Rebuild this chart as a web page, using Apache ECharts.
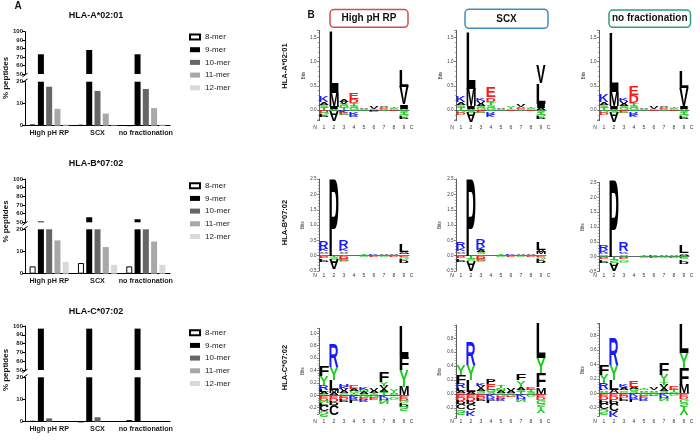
<!DOCTYPE html>
<html><head><meta charset="utf-8">
<script src="https://cdn.jsdelivr.net/npm/echarts@6/dist/echarts.min.js"></script>
<style>html,body{margin:0;padding:0;background:#fff}#c{width:700px;height:440px}</style>
</head><body><div id="c"></div>
<script>
// ================= DATA : panel A (% peptides by length) =================
const fractionations = ['High pH RP', 'SCX', 'no fractionation'];
const merNames = ['8-mer', '9-mer', '10-mer', '11-mer', '12-mer'];
const alleles = ['HLA-A*02:01', 'HLA-B*07:02', 'HLA-C*07:02'];
const upperTicks = [50, 60, 70, 80, 90, 100];
const lowerTicks = [0, 10, 20];

const a0201_8mer  = [0.5, 0.3, 0.1];
const a0201_9mer  = [73.3, 78.4, 73.3];
const a0201_10mer = [17.7, 15.8, 16.7];
const a0201_11mer = [7.7, 5.5, 8.0];
const a0201_12mer = [0.7, 0.2, 0.6];

const b0702_8mer  = [3.3, 4.8, 3.3];
const b0702_9mer  = [51.0, 55.8, 53.5];
const b0702_10mer = [25, 25, 25];
const b0702_11mer = [15.0, 12.0, 14.5];
const b0702_12mer = [5.3, 4.0, 4.0];

const c0702_8mer  = [0.3, 0.0, 0.7];
const c0702_9mer  = [97, 97, 97];
const c0702_10mer = [1.5, 2.0, 0.0];
const c0702_11mer = [0, 0, 0];
const c0702_12mer = [0, 0, 0];

// ================= DATA : panel B (sequence logos, bits) =================
const logoColumns = ['High pH RP', 'SCX', 'no fractionation'];
const positionLabels = ['N', '1', '2', '3', '4', '5', '6', '7', '8', '9', 'C'];
const positionLabelAt = [0.1, 1, 2, 3, 4, 5, 6, 7, 8, 9, 9.75];
// [position, residue, bits]  (positive stacked upward, negative stacked downward)
const logo_A0201_highpH = [
 [1,'T',0.05],[1,'S',0.06],[1,'A',0.06],[1,'K',0.14],[1,'D',-0.04],[1,'G',-0.05],[1,'P',-0.05],
 [2,'V',0.03],[2,'I',0.04],[2,'M',0.28],[2,'L',1.28],[2,'S',-0.03],[2,'A',-0.22],
 [3,'T',0.04],[3,'G',0.04],[3,'S',0.04],[3,'V',0.05],[3,'A',0.05],[3,'K',-0.04],[3,'E',-0.04],[3,'N',-0.03],
 [4,'G',0.04],[4,'S',0.05],[4,'T',0.05],[4,'D',0.08],[4,'E',0.14],[4,'Q',-0.04],[4,'K',-0.05],[4,'R',-0.05],
 [5,'S',0.02],[5,'A',0.015],[5,'G',-0.02],
 [6,'G',0.02],[6,'V',0.04],[6,'P',-0.02],[6,'E',-0.02],
 [7,'S',0.02],[7,'E',0.02],[7,'A',0.03],[7,'V',0.03],[7,'T',-0.02],
 [8,'G',0.02],[8,'S',0.02],[8,'T',0.02],[8,'E',-0.02],
 [9,'A',0.03],[9,'I',0.09],[9,'V',0.36],[9,'L',0.34],[9,'S',-0.04],[9,'T',-0.04],[9,'G',-0.05],[9,'P',-0.06]
];
const logo_A0201_scx = [
 [1,'T',0.05],[1,'S',0.05],[1,'A',0.06],[1,'K',0.12],[1,'G',-0.05],[1,'D',-0.05],
 [2,'V',0.03],[2,'I',0.05],[2,'M',0.36],[2,'L',1.18],[2,'S',-0.04],[2,'A',-0.22],
 [3,'G',0.04],[3,'S',0.04],[3,'A',0.05],[3,'V',0.05],[3,'K',0.05],[3,'E',-0.04],[3,'N',-0.03],
 [4,'G',0.05],[4,'S',0.06],[4,'T',0.06],[4,'D',0.09],[4,'E',0.22],[4,'Q',-0.04],[4,'R',-0.05],[4,'K',-0.05],
 [5,'S',0.02],[5,'A',0.02],[5,'G',-0.02],
 [6,'G',0.02],[6,'Y',0.05],[6,'E',-0.02],
 [7,'S',0.02],[7,'E',0.02],[7,'A',0.03],[7,'V',0.04],[7,'T',-0.02],
 [8,'G',0.02],[8,'S',0.03],[8,'T',0.03],[8,'E',-0.02],
 [9,'A',0.04],[9,'I',0.09],[9,'L',0.42],[9,'V',0.37],[9,'S',-0.04],[9,'T',-0.04],[9,'G',-0.05],[9,'P',-0.06]
];
const logo_A0201_nofrac = [
 [1,'T',0.05],[1,'S',0.06],[1,'A',0.06],[1,'K',0.15],[1,'G',-0.05],[1,'D',-0.05],
 [2,'V',0.03],[2,'I',0.05],[2,'M',0.30],[2,'L',1.24],[2,'S',-0.05],[2,'A',-0.20],
 [3,'G',0.04],[3,'S',0.04],[3,'A',0.05],[3,'V',0.05],[3,'K',0.04],[3,'E',-0.04],[3,'N',-0.03],
 [4,'G',0.04],[4,'S',0.05],[4,'T',0.05],[4,'D',0.17],[4,'E',0.18],[4,'Q',-0.04],[4,'R',-0.05],[4,'K',-0.05],
 [5,'S',0.02],[5,'A',0.02],[5,'G',-0.02],
 [6,'G',0.02],[6,'V',0.04],[6,'E',-0.02],
 [7,'S',0.02],[7,'E',0.02],[7,'A',0.03],[7,'V',0.03],[7,'T',-0.02],
 [8,'G',0.02],[8,'S',0.02],[8,'T',0.03],[8,'E',-0.02],
 [9,'A',0.03],[9,'I',0.05],[9,'V',0.38],[9,'L',0.35],[9,'S',-0.04],[9,'T',-0.04],[9,'G',-0.05],[9,'P',-0.06]
];
const logo_B0702_highpH = [
 [1,'G',0.04],[1,'S',0.05],[1,'A',0.05],[1,'K',0.09],[1,'R',0.23],[1,'D',-0.05],[1,'E',-0.05],[1,'P',-0.07],
 [2,'P',2.53],[2,'T',-0.05],[2,'S',-0.07],[2,'A',-0.35],
 [3,'T',0.05],[3,'S',0.05],[3,'A',0.05],[3,'K',0.10],[3,'R',0.25],[3,'D',-0.06],[3,'E',-0.06],[3,'G',-0.08],
 [4,'S',0.015],[4,'A',0.015],[4,'G',-0.015],
 [5,'S',0.02],[5,'T',0.02],[5,'G',-0.02],
 [6,'T',0.03],[6,'K',0.03],[6,'E',-0.03],
 [7,'S',0.02],[7,'A',0.02],[7,'G',-0.02],
 [8,'S',0.03],[8,'A',0.03],[8,'D',-0.02],
 [9,'S',0.04],[9,'M',0.04],[9,'V',0.05],[9,'L',0.27],[9,'E',-0.04],[9,'G',-0.06],[9,'P',-0.12]
];
const logo_B0702_scx = [
 [1,'G',0.04],[1,'S',0.05],[1,'A',0.05],[1,'K',0.10],[1,'R',0.22],[1,'D',-0.05],[1,'E',-0.05],[1,'P',-0.07],
 [2,'P',2.55],[2,'T',-0.08],[2,'S',-0.10],[2,'A',-0.32],
 [3,'T',0.05],[3,'S',0.06],[3,'A',0.06],[3,'K',0.10],[3,'R',0.26],[3,'D',-0.06],[3,'E',-0.06],[3,'G',-0.08],
 [4,'S',0.015],[4,'A',0.015],[4,'G',-0.015],
 [5,'S',0.02],[5,'T',0.02],[5,'G',-0.02],
 [6,'T',0.03],[6,'K',0.04],[6,'E',-0.03],
 [7,'S',0.02],[7,'A',0.02],[7,'G',-0.02],
 [8,'S',0.03],[8,'A',0.03],[8,'D',-0.02],
 [9,'S',0.05],[9,'M',0.06],[9,'V',0.08],[9,'L',0.27],[9,'E',-0.04],[9,'G',-0.06],[9,'P',-0.12]
];
const logo_B0702_nofrac = [
 [1,'G',0.04],[1,'S',0.05],[1,'A',0.05],[1,'K',0.08],[1,'R',0.19],[1,'D',-0.05],[1,'E',-0.05],[1,'P',-0.07],
 [2,'P',2.63],[2,'T',-0.08],[2,'S',-0.12],[2,'A',-0.27],
 [3,'T',0.04],[3,'S',0.05],[3,'A',0.05],[3,'K',0.06],[3,'R',0.28],[3,'D',-0.06],[3,'E',-0.06],[3,'G',-0.08],
 [4,'S',0.015],[4,'A',0.015],[4,'G',-0.015],
 [5,'S',0.02],[5,'T',0.02],[5,'G',-0.02],
 [6,'T',0.03],[6,'K',0.04],[6,'E',-0.03],
 [7,'S',0.02],[7,'A',0.02],[7,'G',-0.02],
 [8,'S',0.03],[8,'A',0.04],[8,'D',-0.02],
 [9,'S',0.03],[9,'M',0.04],[9,'V',0.04],[9,'L',0.25],[9,'E',-0.04],[9,'G',-0.06],[9,'P',-0.12]
];
const logo_C0702_highpH = [
 [1,'S',0.02],[1,'A',0.03],[1,'L',0.04],[1,'R',0.08],[1,'Y',0.14],[1,'F',0.16],
 [1,'E',-0.04],[1,'D',-0.04],[1,'N',-0.04],[1,'P',-0.04],[1,'C',-0.10],[1,'S',-0.11],
 [2,'A',0.03],[2,'M',0.06],[2,'L',0.16],[2,'Y',0.21],[2,'R',0.38],
 [2,'E',-0.04],[2,'D',-0.05],[2,'P',-0.06],[2,'C',-0.16],
 [3,'G',0.02],[3,'S',0.02],[3,'A',0.03],[3,'V',0.03],[3,'K',0.04],[3,'H',0.03],[3,'E',-0.03],[3,'D',-0.03],[3,'P',-0.04],
 [4,'S',0.02],[4,'T',0.02],[4,'G',0.03],[4,'A',0.03],[4,'E',0.07],[4,'K',-0.03],[4,'R',-0.04],[4,'L',-0.04],
 [5,'S',0.02],[5,'A',0.03],[5,'N',0.03],[5,'K',0.03],[5,'G',-0.03],[5,'E',-0.03],[5,'R',-0.04],
 [6,'S',0.02],[6,'T',0.02],[6,'A',0.03],[6,'V',0.04],[6,'G',-0.03],[6,'E',-0.03],
 [7,'T',0.03],[7,'S',0.03],[7,'A',0.04],[7,'V',0.05],[7,'Y',0.07],[7,'F',0.16],[7,'K',-0.04],[7,'H',-0.03],[7,'N',-0.05],
 [8,'S',0.02],[8,'A',0.02],[8,'Y',0.06],[8,'E',-0.02],[8,'G',-0.03],
 [9,'M',0.14],[9,'Y',0.27],[9,'F',0.21],[9,'L',0.51],[9,'E',-0.04],[9,'D',-0.04],[9,'G',-0.04],[9,'P',-0.06],[9,'S',-0.08]
];
const logo_C0702_scx = [
 [1,'S',0.02],[1,'A',0.03],[1,'L',0.03],[1,'R',0.07],[1,'F',0.12],[1,'Y',0.15],
 [1,'E',-0.04],[1,'D',-0.05],[1,'P',-0.06],[1,'C',-0.08],[1,'S',-0.07],
 [2,'A',0.03],[2,'L',0.17],[2,'Y',0.22],[2,'R',0.34],
 [2,'E',-0.04],[2,'D',-0.05],[2,'P',-0.05],[2,'C',-0.10],[2,'K',-0.08],
 [3,'G',0.02],[3,'S',0.03],[3,'A',0.03],[3,'V',0.03],[3,'K',0.04],[3,'E',-0.03],[3,'D',-0.03],[3,'P',-0.03],
 [4,'S',0.03],[4,'G',0.03],[4,'E',0.09],[4,'P',0.07],[4,'K',-0.04],[4,'R',-0.04],[4,'L',-0.04],
 [5,'S',0.02],[5,'A',0.03],[5,'N',0.03],[5,'T',0.03],[5,'G',-0.03],[5,'E',-0.03],[5,'R',-0.03],
 [6,'S',0.02],[6,'A',0.03],[6,'V',0.04],[6,'G',-0.03],[6,'E',-0.02],
 [7,'T',0.03],[7,'S',0.03],[7,'A',0.04],[7,'Y',0.10],[7,'F',0.10],[7,'K',-0.04],[7,'H',-0.03],[7,'N',-0.04],
 [8,'S',0.03],[8,'T',0.03],[8,'E',0.04],[8,'G',-0.03],
 [9,'M',0.10],[9,'F',0.20],[9,'Y',0.22],[9,'L',0.50],[9,'E',-0.04],[9,'D',-0.04],[9,'G',-0.05],[9,'S',-0.05],[9,'Y',-0.10]
];
const logo_C0702_nofrac = [
 [1,'S',0.02],[1,'A',0.02],[1,'L',0.02],[1,'R',0.08],[1,'Y',0.12],[1,'F',0.14],
 [1,'E',-0.04],[1,'D',-0.05],[1,'P',-0.05],[1,'C',-0.08],[1,'S',-0.08],
 [2,'A',0.05],[2,'L',0.14],[2,'Y',0.21],[2,'R',0.37],
 [2,'E',-0.04],[2,'D',-0.05],[2,'P',-0.05],[2,'C',-0.10],[2,'K',-0.09],
 [3,'G',0.02],[3,'S',0.02],[3,'A',0.03],[3,'V',0.02],[3,'K',0.03],[3,'E',-0.03],[3,'D',-0.03],[3,'P',-0.03],
 [4,'S',0.03],[4,'G',0.03],[4,'A',0.03],[4,'E',0.09],[4,'K',-0.04],[4,'R',-0.04],[4,'L',-0.04],
 [5,'S',0.02],[5,'A',0.02],[5,'N',0.02],[5,'T',0.02],[5,'G',-0.03],[5,'E',-0.03],[5,'R',-0.03],
 [6,'S',0.02],[6,'A',0.02],[6,'V',0.03],[6,'G',-0.03],[6,'E',-0.02],
 [7,'S',0.03],[7,'A',0.04],[7,'V',0.05],[7,'T',0.04],[7,'Y',0.10],[7,'F',0.16],[7,'K',-0.04],[7,'H',-0.03],[7,'N',-0.04],
 [8,'S',0.02],[8,'T',0.03],[8,'E',0.05],[8,'G',-0.03],
 [9,'M',0.12],[9,'F',0.23],[9,'Y',0.21],[9,'L',0.42],[9,'E',-0.04],[9,'D',-0.04],[9,'G',-0.05],[9,'S',-0.05],[9,'Y',-0.12]
];

// ================= LAYOUT / STYLE =================
const FF = '"Liberation Sans", Arial, Helvetica, sans-serif';
const barValues = [
  [a0201_8mer, a0201_9mer, a0201_10mer, a0201_11mer, a0201_12mer],
  [b0702_8mer, b0702_9mer, b0702_10mer, b0702_11mer, b0702_12mer],
  [c0702_8mer, c0702_9mer, c0702_10mer, c0702_11mer, c0702_12mer]
];
const barLayout = [
  {titleY: 16,    upperTop: 31.7, upperH: 42.3, lowerTop: 81.7,  lowerH: 44.0, legendTop: 33,    ylabY: 78},
  {titleY: 164,   upperTop: 179,  upperH: 43.3, lowerTop: 229.3, lowerH: 44.4, legendTop: 181.7, ylabY: 221.5},
  {titleY: 311.7, upperTop: 326,  upperH: 44.0, lowerTop: 377.3, lowerH: 44.4, legendTop: 328.7, ylabY: 370}
];
const BAR_LEFT = 25, BAR_W = 145;
const barStyles = [
  {color: '#ffffff', borderColor: '#000', borderWidth: 1},
  {color: '#000000'}, {color: '#666666'}, {color: '#a8a8a8'}, {color: '#d9d9d9'}
];

const logos = [
  [logo_A0201_highpH, logo_A0201_scx, logo_A0201_nofrac],
  [logo_B0702_highpH, logo_B0702_scx, logo_B0702_nofrac],
  [logo_C0702_highpH, logo_C0702_scx, logo_C0702_nofrac]
];
const logoAxisX = [319, 456, 599];
const logoRowLayout = [
  {zeroY: [110, 110, 110], ppb: [48.3, 48.3, 48.3], min: [-0.22, -0.22, -0.22], max: [1.65, 1.65, 1.65], step: 0.5, labelY: 127.3, rowLabelY: 66},
  {zeroY: [255.7, 255.7, 256.7], ppb: [30.6, 30.6, 29.7], min: [-0.5, -0.5, -0.5], max: [2.5, 2.5, 2.5], step: 0.5, labelY: 276, rowLabelY: 222.5},
  {zeroY: [395.3, 394, 393.3], ppb: [62, 69.6, 72], min: [-0.3, -0.35, -0.32], max: [1.08, 0.99, 0.97], step: 0.2, labelY: 421.7, rowLabelY: 367.5}
];
const headerBoxes = [
  {x: 330, y: 9.5, w: 78, h: 17.8, color: '#d84a4a'},
  {x: 465, y: 9.3, w: 83, h: 19, color: '#3d8ec4'},
  {x: 609, y: 10, w: 81.5, h: 17.3, color: '#2f9f6c'}
];

const RES_COLOR = {};
'ACFILMPVW'.split('').forEach(c => RES_COLOR[c] = '#000000');
'KRH'.split('').forEach(c => RES_COLOR[c] = '#1a1aff');
'DE'.split('').forEach(c => RES_COLOR[c] = '#ff1a1a');
'GNQSTY'.split('').forEach(c => RES_COLOR[c] = '#22cc22');

// ---- glyph metrics for stretched letters ----
const GFONT = 'bold 40px ' + FF;
const mctx = document.createElement('canvas').getContext('2d');
mctx.font = GFONT; mctx.textAlign = 'center'; mctx.textBaseline = 'middle';
const gcache = {};
function glyph(ch) {
  if (!gcache[ch]) {
    const m = mctx.measureText(ch);
    gcache[ch] = {L: m.actualBoundingBoxLeft, R: m.actualBoundingBoxRight, A: m.actualBoundingBoxAscent, D: m.actualBoundingBoxDescent};
  }
  return gcache[ch];
}
function stackLogo(arr) {
  const up = {}, dn = {}, items = [];
  arr.forEach(([p, ch, b]) => {
    if (b >= 0) { const y0 = up[p] || 0; items.push({pos: p, ch, y0, y1: y0 + b, neg: false}); up[p] = y0 + b; }
    else { const y0 = dn[p] || 0; items.push({pos: p, ch, y0: y0 + b, y1: y0, neg: true}); dn[p] = y0 + b; }
  });
  return items;
}
function letterRenderer(items) {
  return function (params, api) {
    const it = items[params.dataIndex];
    const p0 = api.coord([it.pos - 0.5, it.y0]);
    const p1 = api.coord([it.pos + 0.5, it.y1]);
    const w = Math.abs(p1[0] - p0[0]) * 0.94;
    const h = Math.abs(p1[1] - p0[1]);
    if (h < 0.3) return null;
    const g = glyph(it.ch);
    const sx = w / (g.L + g.R);
    let sy = h / (g.A + g.D);
    if (it.neg) sy = -sy;
    const cx = (p0[0] + p1[0]) / 2, cy = (p0[1] + p1[1]) / 2;
    return {
      type: 'text', silent: true,
      x: cx - sx * (g.R - g.L) / 2, y: cy - sy * (g.D - g.A) / 2,
      scaleX: sx, scaleY: sy,
      style: {text: it.ch, font: GFONT, fill: RES_COLOR[it.ch], align: 'center', verticalAlign: 'middle', textAlign: 'center', textVerticalAlign: 'middle'}
    };
  };
}

// ================= BUILD OPTION =================
const grid = [], xAxis = [], yAxis = [], series = [], legend = [], graphic = [];
const txt = (x, y, text, font, extra) => Object.assign({type: 'text', x, y, silent: true,
  style: {text, font, fill: '#111', align: 'center', verticalAlign: 'middle', textAlign: 'center', textVerticalAlign: 'middle'}}, extra || {});

graphic.push(txt(18, 6, 'A', 'bold 10px ' + FF));
graphic.push(txt(311, 15, 'B', 'bold 10px ' + FF));

barLayout.forEach((L, k) => {
  const gu = grid.length, gl = gu + 1;
  grid.push({left: BAR_LEFT, width: BAR_W, top: L.upperTop, height: L.upperH, containLabel: false, outerBoundsMode: 'none'});
  grid.push({left: BAR_LEFT, width: BAR_W, top: L.lowerTop, height: L.lowerH, containLabel: false, outerBoundsMode: 'none'});
  xAxis.push({gridIndex: gu, type: 'category', data: fractionations, show: false});
  xAxis.push({gridIndex: gl, type: 'category', data: fractionations,
    axisLine: {show: true, lineStyle: {color: '#000', width: 1}}, axisTick: {show: false},
    axisLabel: {interval: 0, fontSize: 7.2, fontWeight: 'bold', color: '#1a1a1a', margin: 4, fontFamily: FF}});
  const yCommon = {type: 'value', splitLine: {show: false},
    axisLine: {show: true, lineStyle: {color: '#000', width: 1}},
    axisTick: {show: true, length: 3, lineStyle: {color: '#000', width: 1}},
    axisLabel: {fontSize: 6, fontWeight: 'bold', color: '#1a1a1a', margin: 2, fontFamily: FF}};
  yAxis.push(Object.assign({gridIndex: gu, min: upperTicks[0], max: upperTicks[upperTicks.length - 1], interval: 10}, yCommon));
  yAxis.push(Object.assign({gridIndex: gl, min: lowerTicks[0], max: lowerTicks[lowerTicks.length - 1], interval: 10}, yCommon));
  merNames.forEach((m, j) => {
    const vals = barValues[k][j];
    series.push({type: 'bar', name: m, xAxisIndex: gu, yAxisIndex: gu, barWidth: 6, barGap: '38%',
      data: vals.map(v => v > upperTicks[0] ? v : '-'), itemStyle: barStyles[j], silent: true});
    series.push({type: 'bar', name: m, xAxisIndex: gl, yAxisIndex: gl, barWidth: 6, barGap: '38%',
      data: vals.slice(), itemStyle: barStyles[j], silent: true});
  });
  legend.push({data: merNames, orient: 'vertical', left: 189, top: L.legendTop, padding: 0,
    itemWidth: 10, itemHeight: 5, itemGap: 4.7, icon: 'rect', selectedMode: false,
    textStyle: {fontSize: 8, color: '#1a1a1a', lineHeight: 8, fontFamily: FF}});
  graphic.push(txt(96, L.titleY, alleles[k], 'bold 9px ' + FF));
  graphic.push(txt(6, L.ylabY, '% peptides', 'bold 8px ' + FF, {rotation: Math.PI / 2}));
  const yU = L.upperTop + L.upperH, yL = L.lowerTop;
  graphic.push({type: 'line', silent: true, shape: {x1: BAR_LEFT - 2.5, y1: yU + 2.8, x2: BAR_LEFT + 2.5, y2: yU - 0.8}, style: {stroke: '#000', lineWidth: 1}});
  graphic.push({type: 'line', silent: true, shape: {x1: BAR_LEFT - 2.5, y1: yL + 0.8, x2: BAR_LEFT + 2.5, y2: yL - 2.8}, style: {stroke: '#000', lineWidth: 1}});
});

// header boxes
headerBoxes.forEach((b, i) => {
  graphic.push({type: 'rect', silent: true, shape: {x: b.x, y: b.y, width: b.w, height: b.h, r: 4},
    style: {fill: '#fff', stroke: b.color, lineWidth: 1.5}});
  graphic.push(txt(b.x + b.w / 2, b.y + b.h / 2, logoColumns[i], 'bold 10px ' + FF));
});

// logos
logoRowLayout.forEach((R, r) => {
  graphic.push(txt(285, R.rowLabelY, alleles[r], 'bold 7.5px ' + FF, {rotation: Math.PI / 2}));
  for (let c = 0; c < 3; c++) {
    const gi = grid.length;
    const top = R.zeroY[c] - R.max[c] * R.ppb[c];
    const height = (R.max[c] - R.min[c]) * R.ppb[c];
    grid.push({left: logoAxisX[c], width: 90, top, height, containLabel: false, outerBoundsMode: 'none'});
    xAxis.push({gridIndex: gi, type: 'value', min: 0.5, max: 9.5,
      axisLine: {show: true, onZero: true, lineStyle: {color: '#3a3f55', width: 0.8}},
      axisTick: {show: false}, axisLabel: {show: false}, splitLine: {show: false}});
    const step = R.step;
    yAxis.push({gridIndex: gi, type: 'value', min: R.min[c], max: R.max[c], minInterval: step, maxInterval: step,
      splitNumber: Math.round((R.max[c] - R.min[c]) / step),
      axisLine: {show: true, onZero: false, lineStyle: {color: '#333', width: 0.8}},
      axisTick: {show: true, length: 2, lineStyle: {color: '#333', width: 0.6}},
      minorTick: {show: true, splitNumber: 5, length: 1.2, lineStyle: {color: '#555', width: 0.5}},
      splitLine: {show: false},
      axisLabel: {fontSize: 4.5, color: '#333', margin: 2.5, fontFamily: FF,
        formatter: v => Math.abs(v / step - Math.round(v / step)) < 1e-6 ? v.toFixed(1) : ''},
      name: 'Bits', nameLocation: 'middle', nameGap: 9, nameTextStyle: {fontSize: 4.5, color: '#333', fontFamily: FF}});
    const items = stackLogo(logos[r][c]);
    series.push({type: 'custom', xAxisIndex: gi, yAxisIndex: gi, clip: false, silent: true, z: 3,
      data: items.map(it => [it.pos, it.y0, it.y1]), encode: {x: 0, y: [1, 2]},
      renderItem: letterRenderer(items)});
    const labY = R.labelY;
    series.push({type: 'custom', xAxisIndex: gi, yAxisIndex: gi, clip: false, silent: true,
      data: positionLabelAt.map(x => [x, 0]), encode: {x: 0, y: 1},
      renderItem: (params, api) => {
        const p = api.coord([api.value(0), 0]);
        return {type: 'text', silent: true, x: p[0], y: labY,
          style: {text: positionLabels[params.dataIndex], font: '5px ' + FF, fill: '#333',
            align: 'center', verticalAlign: 'middle', textAlign: 'center', textVerticalAlign: 'middle'}};
      }});
  }
});

const chart = echarts.init(document.getElementById('c'), null, {renderer: 'canvas'});
chart.setOption({animation: false, backgroundColor: '#fff', textStyle: {fontFamily: FF},
  grid, xAxis, yAxis, series, legend, graphic});
</script></body></html>
